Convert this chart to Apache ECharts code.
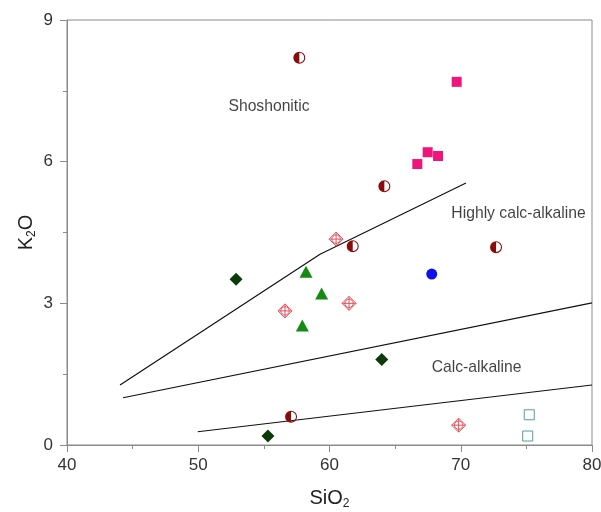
<!DOCTYPE html>
<html>
<head>
<meta charset="utf-8">
<script src="https://cdn.jsdelivr.net/npm/echarts@6/dist/echarts.min.js"></script>
<style>html,body{margin:0;padding:0;background:#fff;}#c{width:601px;height:512px;}</style>
</head>
<body>
<div id="c"></div>
<script>
// ---- data ----
var halfCircle = [[57.70, 8.20], [64.18, 5.48], [61.77, 4.21], [72.69, 4.19], [57.07, 0.60]];
var pinkSquare = [[69.69, 7.69], [67.48, 6.20], [68.27, 6.12], [66.69, 5.95]];
var blueCircle = [[67.79, 3.62]];
var darkDiamond = [[52.88, 3.51], [63.98, 1.81], [55.31, 0.19]];
var greenTriangle = [[58.21, 3.67], [59.40, 3.21], [57.93, 2.53]];
var crossDiamond = [[60.50, 4.36], [61.49, 3.00], [56.61, 2.84], [69.84, 0.42]];
var tealSquare = [[75.22, 0.64], [75.10, 0.19]];
var lineShoshonitic = [[44.04, 1.27], [59.28, 4.04], [70.40, 5.55]];
var lineHighK = [[44.27, 1.00], [80.00, 3.01]];
var lineCalc = [[49.96, 0.28], [80.00, 1.27]];
var regionNames = ['Shoshonitic', 'Highly calc-alkaline', 'Calc-alkaline'];
var regionPos = [[55.39, 7.16], [74.40, 4.89], [71.21, 1.63]];
var xTicks = [40, 50, 60, 70, 80];
var yTicks = [0, 3, 6, 9];

var halfPath = 'path://M50,0 A50,50 0 1,1 50,100 A50,50 0 1,1 50,0 Z M50,9 A41,41 0 1,0 50,91 A41,41 0 1,0 50,9 Z M50,91 A41,41 0 0,1 50,9 Z';
var crossPath = 'path://M50,0 L100,50 L50,100 L0,50 Z M50,0 L50,100 M0,50 L100,50 M80,50 A30,30 0 1,1 20,50 A30,30 0 1,1 80,50 Z';

var chart = echarts.init(document.getElementById('c'), null, {renderer: 'canvas'});
var font = 'Liberation Sans, Arial, sans-serif';
function lineSeries(d) {
  return {type: 'line', data: d, showSymbol: false, symbol: 'none', silent: true,
    lineStyle: {color: '#111', width: 1.2}, z: 2};
}
chart.setOption({
  animation: false,
  backgroundColor: '#fff',
  textStyle: {fontFamily: font},
  grid: {left: 67, right: 9, top: 20, bottom: 67, containLabel: false, outerBoundsMode: 'none',
    show: true, borderColor: '#8a8a8a', borderWidth: 1, backgroundColor: 'transparent'},
  xAxis: {
    type: 'value', min: xTicks[0], max: xTicks[xTicks.length - 1], interval: 10,
    name: 'SiO{s|2}', nameLocation: 'middle', nameGap: 41, nameMoveOverlap: false,
    nameTextStyle: {fontSize: 20, color: '#222', fontFamily: font, rich: {s: {fontSize: 12, verticalAlign: 'bottom', padding: [12, 0, 0, 0], color: '#222', fontFamily: font}}},
    axisLine: {show: true, lineStyle: {color: '#8a8a8a', width: 1}},
    axisTick: {show: true, inside: false, length: 7, lineStyle: {color: '#8a8a8a'}},
    minorTick: {show: true, splitNumber: 2, length: 4, lineStyle: {color: '#8a8a8a'}},
    axisLabel: {fontSize: 17, color: '#333', margin: 12, fontFamily: font},
    splitLine: {show: false}
  },
  yAxis: {
    type: 'value', min: yTicks[0], max: yTicks[yTicks.length - 1], interval: 3,
    name: 'K{s|2}O', nameLocation: 'middle', nameGap: 29, nameRotate: 90, nameMoveOverlap: false,
    nameTextStyle: {fontSize: 20, color: '#222', fontFamily: font, rich: {s: {fontSize: 12, verticalAlign: 'bottom', padding: [12, 0, 0, 0], color: '#222', fontFamily: font}}},
    axisLine: {show: true, lineStyle: {color: '#8a8a8a', width: 1}},
    axisTick: {show: true, inside: false, length: 7, lineStyle: {color: '#8a8a8a'}},
    minorTick: {show: true, splitNumber: 2, length: 4, lineStyle: {color: '#8a8a8a'}},
    axisLabel: {fontSize: 17, color: '#333', margin: 14, fontFamily: font},
    splitLine: {show: false}
  },
  series: [
    lineSeries(lineShoshonitic),
    lineSeries(lineHighK),
    lineSeries(lineCalc),
    {type: 'scatter', data: regionNames.map(function (n, i) { return {name: n, value: regionPos[i]}; }),
      symbol: 'circle', symbolSize: 2, silent: true, z: 3, itemStyle: {color: 'rgba(0,0,0,0)'},
      label: {show: true, position: 'inside', formatter: '{b}', fontSize: 15.7, color: '#111',
        textBorderWidth: 0, textBorderColor: 'transparent', fontFamily: font}},
    {type: 'scatter', data: halfCircle, symbol: halfPath, symbolSize: 12, itemStyle: {color: '#8b0a0a', opacity: 1}, z: 5},
    {type: 'scatter', data: pinkSquare, symbol: 'rect', symbolSize: 10, itemStyle: {color: '#f0157d', opacity: 1}, z: 5},
    {type: 'scatter', data: blueCircle, symbol: 'circle', symbolSize: 11, itemStyle: {color: '#1010ee', opacity: 1}, z: 5},
    {type: 'scatter', data: darkDiamond, symbol: 'diamond', symbolSize: 13, itemStyle: {color: '#0b3a0b', opacity: 1}, z: 5},
    {type: 'scatter', data: greenTriangle, symbol: 'triangle', symbolSize: [13, 12], itemStyle: {color: '#148c14', opacity: 1}, z: 5},
    {type: 'scatter', data: crossDiamond, symbol: crossPath, symbolSize: 14, itemStyle: {color: 'rgba(255,255,255,0)', borderColor: '#e2505a', borderWidth: 1, opacity: 1}, z: 5},
    {type: 'scatter', data: tealSquare, symbol: 'rect', symbolSize: 10, itemStyle: {color: '#fff', borderColor: '#4f9e9e', borderWidth: 1, opacity: 1}, z: 5}
  ]
});
</script>
</body>
</html>
